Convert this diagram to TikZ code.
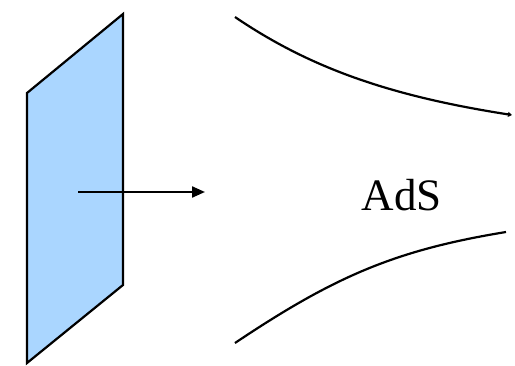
\documentclass[tikz,border=0pt]{standalone}
\usepackage{fontspec}
\setmainfont{Liberation Serif}
\usetikzlibrary{arrows.meta}
\begin{document}
\begin{tikzpicture}[x=1pt,y=-1pt,
  brane/.style={draw=black,fill=branefill,line width=2.2pt,line join=miter},
  curve/.style={draw=black,line width=2.2pt},
  conn/.style={draw=black,line width=2.2pt,-{Triangle[length=13pt,width=11pt]}}]
\definecolor{branefill}{RGB}{170,214,255}
\useasboundingbox (0,0) rectangle (515,365);
\coordinate (tl) at (27,93);
\coordinate (tr) at (123,14);
\coordinate (br) at (123,285);
\coordinate (bl) at (27,363);
\path[brane] (tl) -- (tr) -- (br) -- (bl) -- cycle;
\coordinate (a1) at (78,192);
\coordinate (a2) at (205,192);
\draw[conn] (a1) -- (a2);
\coordinate (u1) at (235,17);
\coordinate (u2) at (512,115);
\draw[curve,-{Triangle[length=4pt,width=5pt]}] (u1) .. controls (310,68) and (390,96) .. (u2);
\coordinate (l1) at (235,343);
\coordinate (l2) at (506,232);
\draw[curve] (l1) .. controls (335,276) and (396,250) .. (l2);
\node[inner sep=0pt,font=\fontsize{45}{50}\selectfont] (ads) at (402,195) {AdS};
\end{tikzpicture}
\end{document}
